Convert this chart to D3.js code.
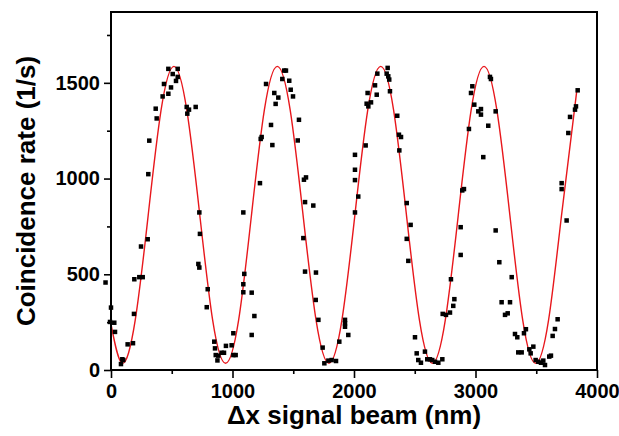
<!DOCTYPE html>
<html>
<head>
<meta charset="utf-8">
<script src="https://cdn.jsdelivr.net/npm/d3@7"></script>
<style>
body { margin: 0; background: #fff; }
.axis text { font-family: "Liberation Sans", Arial, sans-serif; font-weight: bold; font-size: 20px; fill: #000; }
.axis line { stroke: #000; stroke-width: 1.6px; }
.axisTitle { font-family: "Liberation Sans", Arial, sans-serif; font-weight: bold; font-size: 26px; fill: #000; }
</style>
</head>
<body>
<svg class="fringe_svg" width="619" height="436"></svg>
<script>
var rateX = [-45, 0, -8, 27, 33, 82, 93, 101, 137, 181, 189, 192, 233, 261, 247, 302, 307, 315, 368, 376,
    425, 436, 472, 472, 494, 508, 535, 549, 549, 623, 628, 642, 697,
    727, 732, 719, 727, 796, 788, 850, 856, 862, 876, 883, 911, 930, 946, 993, 1007, 1007, 1026,
    1089, 1089, 1089, 1097, 1158, 1180, 1158, 1226, 1232, 1240, 1317, 1328, 1276, 1344, 1355, 1377,
    1410, 1426, 1440, 1467, 1479, 1498, 1547, 1537, 1588, 1605, 1597, 1665, 1583, 1597, 1687, 1685,
    1707, 1742, 1756, 1789, 1816, 1852, 1879, 1926, 1926, 1926, 1953,
    2008, 2035, 2008, 2008, 2008, 2096, 2104, 2118, 2140, 2112, 2173, 2187, 2192, 2277, 2269, 2282,
    2290, 2296, 2356, 2370, 2387, 2373, 2434, 2466, 2434, 2447, 2502, 2516, 2529, 2551, 2584, 2603,
    2625, 2644, 2667, 2694, 2727, 2730, 2757, 2790, 2817, 2826, 2798, 2878, 2878,
    2891, 2905, 2946, 2963, 2974, 2990, 3023, 3045, 3045, 3064, 3105, 3119, 3127, 3166, 3166, 3196,
    3298, 3215, 3284, 3243, 3265, 3325, 3344, 3399, 3415, 3352, 3380, 3443, 3454, 3476, 3495, 3517,
    3539, 3558, 3572, 3607, 3621, 3635, 3654, 3676, 3709, 3709, 3750, 3764, 3778, 3819, 3827, 3841];
var rateY = [457, 326, 251, 247, 199, 31, 56, 52, 134, 140, 293, 474, 485, 485, 645, 683, 1023, 1198, 1365, 1314,
    1429, 1494, 1443, 1573, 1476, 1546, 1510, 1531, 1573, 1374, 1339, 1360, 1374,
    823, 711, 554, 535, 422, 328, 148, 113, 78, 50, 75, 90, 90, 126, 129, 192, 78, 78,
    823, 448, 406, 502, 404, 282, 183, 976, 1207, 1217, 1280, 1175, 1494, 1447, 1390, 1423,
    1520, 1564, 1564, 1511, 1464, 1429, 1307, 1199, 994, 1006, 877, 859, 689, 514, 509, 366,
    262, 117, 35, 49, 52, 47, 148, 262, 244, 226, 183,
    823, 906, 1124, 1046, 992, 1173, 1391, 1377, 1398, 1447, 1487, 1438, 1548, 1578, 1548, 1534,
    1517, 1456, 1328, 1229, 1217, 1147, 872, 758, 685, 570, 171, 87, 52, 38, 96, 56,
    56, 52, 43, 38, 56, 293, 288, 300, 335, 370, 474, 601, 746,
    938, 945, 1259, 1447, 1482, 1386, 1351, 1363, 1334, 1112, 1276, 1531, 1520, 1351, 729, 563,
    485, 354, 354, 288, 296, 188, 171, 192, 213, 92, 92, 108, 87, 122, 52, 43,
    38, 49, 26, 70, 75, 178, 214, 265, 976, 945, 781, 1238, 1322, 1360, 1377, 1461];

// fitted curve
var fitX = [0, 93, 199, 306, 412, 518, 624, 731, 837, 943, 1050, 1156, 1262, 1369, 1475, 1581, 1688,
    1794, 1900, 2007, 2113, 2220, 2326, 2432, 2539, 2645, 2751, 2858, 2964, 3070, 3176, 3283, 3389,
    3495, 3601, 3708, 3833];
var fitY = [240, 35, 259, 808, 1357, 1586, 1357, 808, 259, 35, 259, 808, 1357, 1586, 1357, 808, 259,
    35, 259, 808, 1357, 1586, 1357, 808, 259, 35, 259, 808, 1357, 1586, 1357, 808, 259,
    35, 259, 808, 1455];

var xTicks = [0, 1000, 2000, 3000, 4000],
    xMinor = [500, 1500, 2500, 3500],
    yTicks = [0, 500, 1000, 1500],
    yMinor = [250, 750, 1250, 1750];

var svg = d3.select(".fringe_svg"),
    margin = {top: 12, right: 22, bottom: 66, left: 111},
    width = svg.attr("width") - margin.left - margin.right,
    height = svg.attr("height") - margin.top - margin.bottom;

var x = d3.scaleLinear().domain([0, 4000]).range([0, width]);
var y = d3.scaleLinear().domain([0, 1870]).range([height, 0]);

var g = svg.append("g")
    .attr("transform", "translate(" + margin.left + "," + margin.top + ")");

// axes
g.append("g")
    .attr("class", "axis")
    .attr("transform", "translate(0," + height + ")")
    .call(d3.axisBottom(x).tickValues(xTicks).tickSize(8).tickPadding(6).tickFormat(d3.format("d")))
    .call(function(a) { a.select(".domain").remove(); });
g.append("g")
    .attr("class", "axis")
    .attr("transform", "translate(0," + height + ")")
    .call(d3.axisBottom(x).tickValues(xMinor).tickSize(4).tickFormat(""))
    .call(function(a) { a.select(".domain").remove(); });

g.append("g")
    .attr("class", "axis")
    .call(d3.axisLeft(y).tickValues(yTicks).tickSize(7).tickPadding(4).tickFormat(d3.format("d")))
    .call(function(a) { a.select(".domain").remove(); });
g.append("g")
    .attr("class", "axis")
    .call(d3.axisLeft(y).tickValues(yMinor).tickSize(4).tickFormat(""))
    .call(function(a) { a.select(".domain").remove(); });

// fit
var line = d3.line()
    .x(function(d) { return x(d[0]); })
    .y(function(d) { return y(d[1]); })
    .curve(d3.curveNatural);

g.append("path")
    .datum(d3.zip(fitX, fitY))
    .attr("d", line)
    .attr("fill", "none")
    .attr("stroke", "#e8171c")
    .attr("stroke-width", 1.4);

// points
var s = 4.5;
g.append("g")
    .selectAll("rect")
    .data(d3.zip(rateX, rateY))
    .enter().append("rect")
    .attr("x", function(d) { return x(d[0]) - s / 2; })
    .attr("y", function(d) { return y(d[1]) - s / 2; })
    .attr("width", s)
    .attr("height", s)
    .attr("fill", "#000");

// frame
g.append("rect")
    .attr("width", width)
    .attr("height", height)
    .attr("fill", "none")
    .attr("stroke", "#000")
    .attr("stroke-width", 2);

svg.append("text")
    .attr("class", "axisTitle")
    .attr("x", margin.left + width / 2)
    .attr("y", 424)
    .attr("text-anchor", "middle")
    .text("Δx signal beam (nm)");

svg.append("text")
    .attr("class", "axisTitle")
    .attr("transform", "translate(35," + (margin.top + height / 2) + ") rotate(-90)")
    .attr("text-anchor", "middle")
    .text("Coincidence rate (1/s)");
</script>
</body>
</html>
